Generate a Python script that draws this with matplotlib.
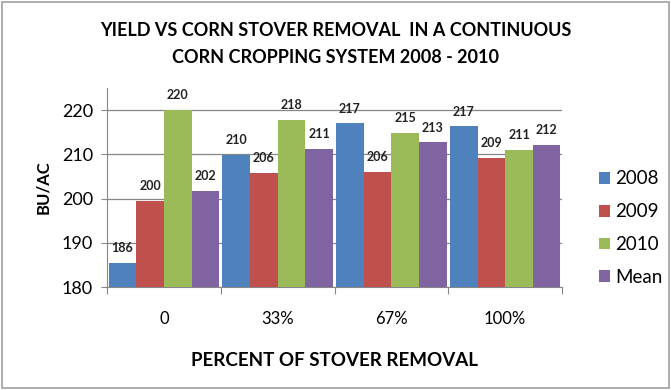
import numpy as np
import matplotlib.pyplot as plt
from matplotlib.patches import Rectangle

plt.rcParams['font.family'] = ['Lato', 'DejaVu Sans']

# data
groups = ["0", "33%", "67%", "100%"]
series = ["2008", "2009", "2010", "Mean"]
y2008 = [185.5, 209.9, 217.0, 216.3]
y2009 = [199.4, 205.7, 206.0, 209.2]
y2010 = [220.0, 217.8, 214.8, 210.9]
ymean = [201.7, 211.2, 212.7, 212.1]
labels2008 = ["186", "210", "217", "217"]
labels2009 = ["200", "206", "206", "209"]
labels2010 = ["220", "218", "215", "211"]
labelsmean = ["202", "211", "213", "212"]

colors = ["#4F81BD", "#C0504D", "#9BBB59", "#8064A2"]
values = [y2008, y2009, y2010, ymean]
texts = [labels2008, labels2009, labels2010, labelsmean]

fig = plt.figure(figsize=(6.71, 3.90), dpi=100)
ax = fig.add_axes([0.1595, 0.2641, 0.8376 - 0.1595, 0.7744 - 0.2641])

x = np.arange(len(groups))
w = 0.243
for i in range(4):
    pos = x + (i - 1.5) * w
    ax.bar(pos, values[i], w, bottom=0, color=colors[i], label=series[i], zorder=3)
    for xp, v, t in zip(pos, values[i], texts[i]):
        ax.text(xp, v + 2.0, t, ha='center', va='bottom', fontsize=9,
                fontweight='bold', color='#222222', zorder=4)

ax.set_ylim(180, 225)
ax.set_xlim(-0.5, 3.5)
ax.set_yticks([180, 190, 200, 210, 220])
ax.tick_params(axis='y', labelsize=13, length=4, color='#868686', pad=6)
ax.grid(axis='y', color='#868686', linewidth=0.9, zorder=0)

ax.set_xticks([-0.5, 0.5, 1.5, 2.5, 3.5])
ax.set_xticklabels([])
ax.set_xticks(x, minor=True)
ax.set_xticklabels(groups, minor=True)
ax.tick_params(axis='x', which='major', length=5, color='#868686')
ax.tick_params(axis='x', which='minor', length=0, labelsize=12, pad=17)

for s in ['top', 'right']:
    ax.spines[s].set_visible(False)
for s in ['left', 'bottom']:
    ax.spines[s].set_color('#868686')
ax.set_axisbelow(True)

ax.set_ylabel("BU/AC", fontsize=12, fontweight='bold', labelpad=8)
ax.set_xlabel("PERCENT OF STOVER REMOVAL", fontsize=13.5, fontweight='bold', labelpad=18)

fig.text(0.5, 0.887, "YIELD VS CORN STOVER REMOVAL  IN A CONTINUOUS\nCORN CROPPING SYSTEM 2008 - 2010",
         ha='center', va='center', fontsize=13, fontweight='bold', linespacing=1.75)

fig.legend(loc='center left', bbox_to_anchor=(0.867, 0.415), frameon=False,
           fontsize=13.5, handlelength=0.6, handleheight=0.6, handletextpad=0.3,
           labelspacing=0.85)

fig.patches.append(Rectangle((0.003, 0.006), 0.994, 0.988, transform=fig.transFigure,
                             fill=False, edgecolor='#A0A0A0', linewidth=1.2))

fig.savefig("out.png", dpi=100)
